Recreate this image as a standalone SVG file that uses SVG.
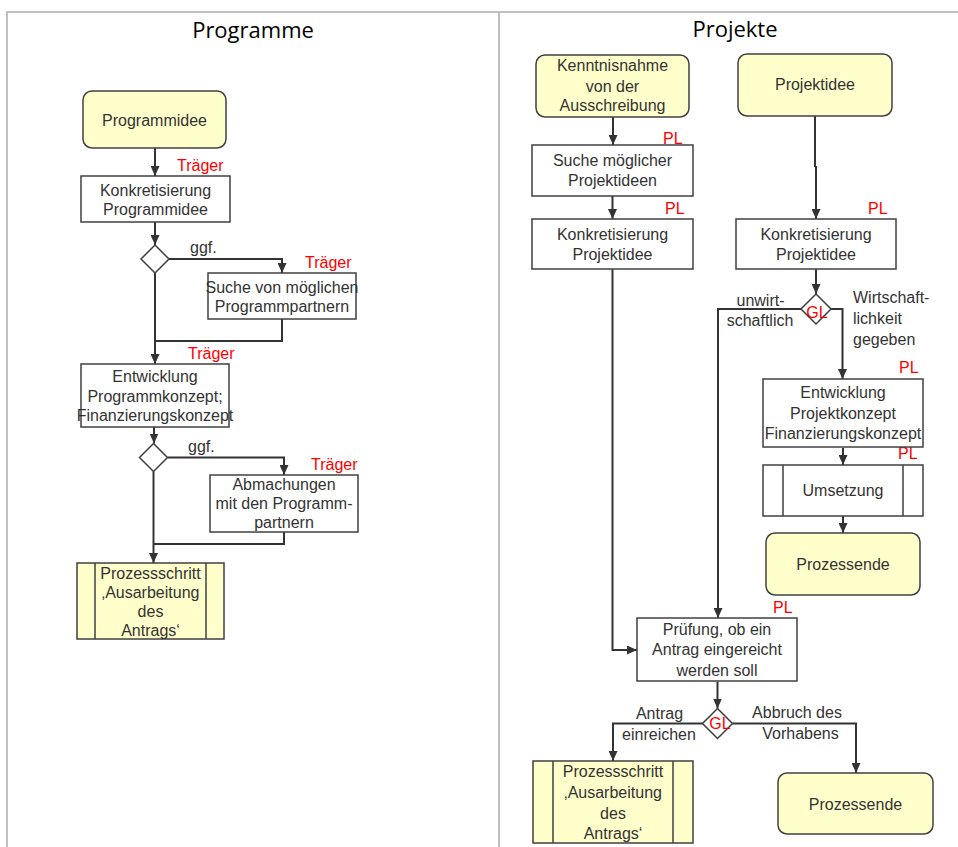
<svg xmlns="http://www.w3.org/2000/svg" width="958" height="847" viewBox="0 0 958 847">
<style>
.frame{stroke:#c0c0c0;stroke-width:2;fill:none}
.title{font-family:"Open Sans","Liberation Sans",sans-serif;font-size:22px;fill:#000;text-anchor:middle}
.box{fill:#fff;stroke:#404040;stroke-width:1.5}
.term{fill:#ffffcc;stroke:#404040;stroke-width:1.5}
.t{font-family:"Liberation Sans",Arial,sans-serif;font-size:16px;fill:#333;text-anchor:middle}
.l{font-family:"Liberation Sans",Arial,sans-serif;font-size:16px;fill:#333}
.r{font-family:"Liberation Sans",Arial,sans-serif;font-size:16px;fill:#ff0000}
.c{fill:none;stroke:#333;stroke-width:2}
.a{marker-end:url(#arr)}
</style>
<defs>
<marker id="arr" markerUnits="userSpaceOnUse" markerWidth="10" markerHeight="9" refX="10" refY="4.5" orient="auto">
<path d="M0,0 L10,4.5 L0,9 z" fill="#333"/>
</marker>
</defs>
<rect width="958" height="847" fill="#fff"/>
<g id="frame">
<path class="frame" d="M7,847 V12 H958 M499,12 V847"/>
<text class="title" x="253" y="37.5">Programme</text>
<text class="title" x="735" y="37">Projekte</text>
</g>
<g id="connectors">
<path class="c a" d="M155,148 V176"/>
<path class="c a" d="M155,222 V245"/>
<path class="c a" d="M169,259 H282 V273"/>
<path class="c" d="M282,319 V341 H155"/>
<path class="c a" d="M155,273 V364"/>
<path class="c a" d="M154,427 V443.5"/>
<path class="c a" d="M167.5,457.5 H284 V475"/>
<path class="c" d="M284,532 V544 H153.5"/>
<path class="c a" d="M153.5,471.5 V563"/>
<path class="c a" d="M613,117 V145"/>
<path class="c a" d="M612.5,196 V219"/>
<path class="c a" d="M815,116 V167 M816,166 V219"/>
<path class="c a" d="M816,269 V294"/>
<path class="c a" d="M801,309 H718 V618"/>
<path class="c a" d="M831,309 H842.5 V379"/>
<path class="c a" d="M843,448 V465"/>
<path class="c a" d="M843,516 V533"/>
<path class="c a" d="M612.5,269 V650 H637"/>
<path class="c a" d="M717.5,681.5 V708.5"/>
<path class="c a" d="M702.5,723.5 H613 V761"/>
<path class="c a" d="M732.5,723.5 H856 V773"/>
<text class="r" x="177" y="171">Träger</text>
<text class="l" x="190" y="253">ggf.</text>
<text class="r" x="305" y="268">Träger</text>
<text class="r" x="188" y="359">Träger</text>
<text class="l" x="188" y="452">ggf.</text>
<text class="r" x="311" y="470">Träger</text>
<text class="r" x="663" y="144">PL</text>
<text class="r" x="665" y="214">PL</text>
<text class="r" x="868" y="214">PL</text>
<text class="t" x="760.5" y="306">unwirt-</text>
<text class="t" x="760" y="326">schaftlich</text>
<text class="l" x="853" y="303">Wirtschaft-</text>
<text class="l" x="853" y="324">lichkeit</text>
<text class="l" x="853" y="345">gegeben</text>
<text class="r" x="899" y="373">PL</text>
<text class="r" x="898" y="459">PL</text>
<text class="r" x="773" y="613">PL</text>
<text class="t" x="659.5" y="718.5">Antrag</text>
<text class="t" x="659" y="739.5">einreichen</text>
<text class="t" x="797" y="718">Abbruch des</text>
<text class="t" x="800.5" y="739">Vorhabens</text>
</g>
<g id="programmidee">
<rect class="term" x="83" y="91" width="143" height="57" rx="9"/>
<text class="t" x="154.5" y="126">Programmidee</text>
</g>
<g id="konkretisierung-programmidee">
<rect class="box" x="81" y="176" width="149" height="46"/>
<text class="t" x="155.5" y="196">Konkretisierung</text>
<text class="t" x="155.5" y="214.5">Programmidee</text>
</g>
<g id="entscheidung1">
<path class="box" d="M155,245 L169,259 L155,273 L141,259 z"/>
</g>
<g id="suche-partner">
<rect class="box" x="208" y="273" width="148" height="46"/>
<text class="t" x="282" y="293">Suche von möglichen</text>
<text class="t" x="282" y="312">Programmpartnern</text>
</g>
<g id="entwicklung-programm">
<rect class="box" x="81" y="364" width="148" height="63"/>
<text class="t" x="155" y="382">Entwicklung</text>
<text class="t" x="155" y="401.5">Programmkonzept;</text>
<text class="t" x="155" y="421">Finanzierungskonzept</text>
</g>
<g id="entscheidung2">
<path class="box" d="M153.5,443.5 L167.5,457.5 L153.5,471.5 L139.5,457.5 z"/>
</g>
<g id="abmachungen">
<rect class="box" x="210" y="475" width="148" height="57"/>
<text class="t" x="284" y="490">Abmachungen</text>
<text class="t" x="284" y="509">mit den Programm-</text>
<text class="t" x="284" y="527.5">partnern</text>
</g>
<g id="prozessschritt-links">
<rect class="term" x="77" y="563" width="147" height="76" rx="0"/>
<path class="box" d="M95,563 V639 M206,563 V639" fill="none"/>
<text class="t" x="150.5" y="579">Prozessschritt</text>
<text class="t" x="150.5" y="598">‚Ausarbeitung</text>
<text class="t" x="150.5" y="617">des</text>
<text class="t" x="150.5" y="635.5">Antrags‘</text>
</g>
<g id="kenntnisnahme">
<rect class="term" x="536" y="55" width="153" height="62" rx="9"/>
<text class="t" x="612.5" y="71">Kenntnisnahme</text>
<text class="t" x="612.5" y="91.5">von der</text>
<text class="t" x="612.5" y="111">Ausschreibung</text>
</g>
<g id="projektidee">
<rect class="term" x="738" y="54" width="154" height="62" rx="9"/>
<text class="t" x="815" y="90">Projektidee</text>
</g>
<g id="suche-projektideen">
<rect class="box" x="532" y="145" width="161" height="51"/>
<text class="t" x="612.5" y="166">Suche möglicher</text>
<text class="t" x="612.5" y="186">Projektideen</text>
</g>
<g id="konkretisierung-links">
<rect class="box" x="532" y="219" width="161" height="50"/>
<text class="t" x="612.5" y="239.5">Konkretisierung</text>
<text class="t" x="612.5" y="259.5">Projektidee</text>
</g>
<g id="konkretisierung-rechts">
<rect class="box" x="736" y="219" width="160" height="50"/>
<text class="t" x="816" y="239.5">Konkretisierung</text>
<text class="t" x="816" y="259.5">Projektidee</text>
</g>
<g id="gl1">
<path class="box" d="M816,294 L831,309 L816,324 L801,309 z"/>
<text class="r" x="817" y="318" text-anchor="middle">GL</text>
</g>
<g id="entwicklung-projekt">
<rect class="box" x="763" y="379" width="160" height="68"/>
<text class="t" x="843" y="397.5">Entwicklung</text>
<text class="t" x="843" y="418.5">Projektkonzept</text>
<text class="t" x="843" y="439">Finanzierungskonzept</text>
</g>
<g id="umsetzung">
<rect class="box" x="763" y="465" width="160" height="51"/>
<path class="box" d="M783,465 V516 M903,465 V516" fill="none"/>
<text class="t" x="843" y="495.5">Umsetzung</text>
</g>
<g id="prozessende1">
<rect class="term" x="766" y="533" width="154" height="62" rx="9"/>
<text class="t" x="843" y="570">Prozessende</text>
</g>
<g id="pruefung">
<rect class="box" x="637" y="618" width="160" height="63"/>
<text class="t" x="717" y="635">Prüfung, ob ein</text>
<text class="t" x="717" y="655">Antrag eingereicht</text>
<text class="t" x="717" y="675.5">werden soll</text>
</g>
<g id="gl2">
<path class="box" d="M717.5,708.5 L732.5,723.5 L717.5,738.5 L702.5,723.5 z"/>
<text class="r" x="720" y="728.5" text-anchor="middle">GL</text>
</g>
<g id="prozessschritt-rechts">
<rect class="term" x="533" y="761" width="160" height="82"/>
<path class="box" d="M553,761 V843 M673,761 V843" fill="none"/>
<text class="t" x="613" y="777">Prozessschritt</text>
<text class="t" x="613" y="798">‚Ausarbeitung</text>
<text class="t" x="613" y="819">des</text>
<text class="t" x="613" y="838.5">Antrags‘</text>
</g>
<g id="prozessende2">
<rect class="term" x="778" y="773" width="155" height="61" rx="9"/>
<text class="t" x="855.5" y="810">Prozessende</text>
</g>
</svg>
